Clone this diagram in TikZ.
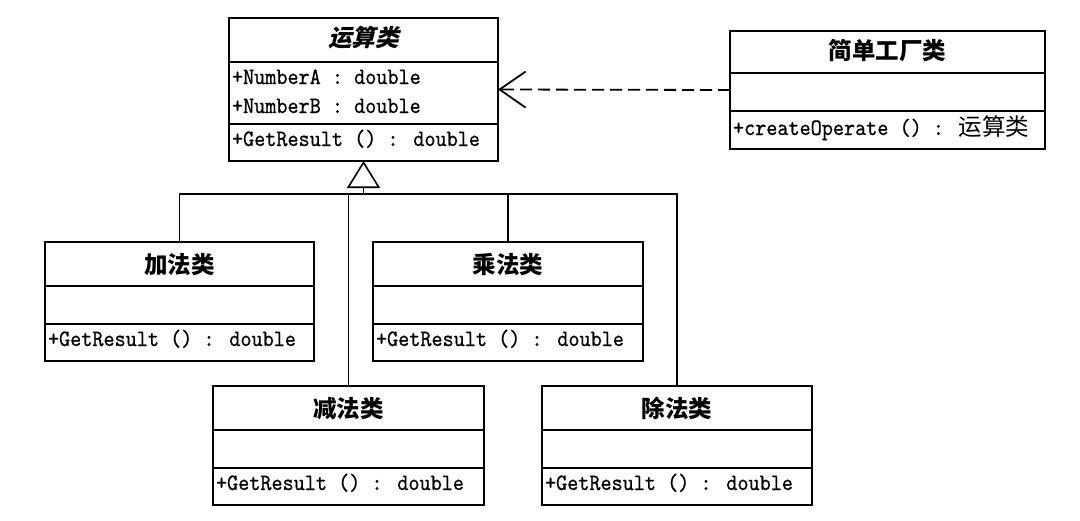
\documentclass[tikz,border=0pt]{standalone}
\usepackage{fontspec}
\newfontfamily\cjk{Noto Sans CJK SC}
\newfontfamily\cjkslant[FakeSlant=0.25]{Noto Sans CJK SC}
\newfontfamily\memberfont[Extension=.otf, FakeStretch=0.9, FakeBold=0.6]{lmmono10-regular}
\usetikzlibrary{arrows.meta,
		shapes.multipart}

\newcommand{\partstrut}[2]{\rule[-#2pt]{0pt}{#1pt}}
\newcommand{\clsname}[1]{{\cjk\bfseries\fontsize{23.5}{23.5}\selectfont #1}}

\tikzset{
  umlclass/.style = {rectangle split, rectangle split parts=3, draw, line width=2pt,
    anchor=north west, inner xsep=3pt, inner ysep=0pt, outer sep=0pt, align=left,
    rectangle split part align={center,left,left},
    font=\memberfont\fontsize{23.5}{29}\selectfont},
  link/.style = {line width=1.6pt},
  inherit/.style = {line width=1.6pt, -{Triangle[open, length=27pt, width=33pt]}},
  depend/.style = {line width=1.8pt, dash pattern=on 12pt off 6pt,
    -{Straight Barb[length=26pt, width=36pt]}}
}

\begin{document}
\begin{tikzpicture}[x=1pt, y=-1pt]

\useasboundingbox (0,0) rectangle (1080,520);

% base class
\node[umlclass, minimum width=269pt] (op) at (229,18)
  {\partstrut{42}{15}{\cjkslant\bfseries\fontsize{23.5}{23.5}\selectfont 运算类}
   \nodepart{two}\partstrut{21}{0}+NumberA : double\\\partstrut{10}{10}+NumberB : double
   \nodepart{three}\partstrut{35}{14}+GetResult () : double};

% factory
\node[umlclass, minimum width=315pt] (factory) at (730,31)
  {\partstrut{40}{13}\clsname{简单工厂类}
   \nodepart{two}\partstrut{36}{0}
   \nodepart{three}\partstrut{36}{13}+createOperate () : {\cjk 运算类}};

% subclasses
\node[umlclass, minimum width=269pt] (add) at (45,242)
  {\partstrut{42}{12}\clsname{加法类}
   \nodepart{two}\partstrut{36}{0}
   \nodepart{three}\partstrut{35}{14}+GetResult () : double};
\node[umlclass, minimum width=270pt] (mul) at (373,242)
  {\partstrut{42}{12}\clsname{乘法类}
   \nodepart{two}\partstrut{36}{0}
   \nodepart{three}\partstrut{35}{14}+GetResult () : double};
\node[umlclass, minimum width=271pt] (sub) at (213,386)
  {\partstrut{42}{12}\clsname{减法类}
   \nodepart{two}\partstrut{36}{0}
   \nodepart{three}\partstrut{35}{14}+GetResult () : double};
\node[umlclass, minimum width=270pt] (div) at (542,386)
  {\partstrut{42}{12}\clsname{除法类}
   \nodepart{two}\partstrut{36}{0}
   \nodepart{three}\partstrut{35}{14}+GetResult () : double};

% generalization
\coordinate (hub) at (363.5,194);
\draw[inherit] (hub) -- (op.south);
\draw[link] (add.north) |- (hub);
\draw[link] (mul.north) |- (hub);
\draw[link] (sub.north) |- (hub);
\draw[link] (div.north) |- (hub);

% dependency
\draw[depend] (factory.west) -- (op.east);

\end{tikzpicture}
\end{document}
